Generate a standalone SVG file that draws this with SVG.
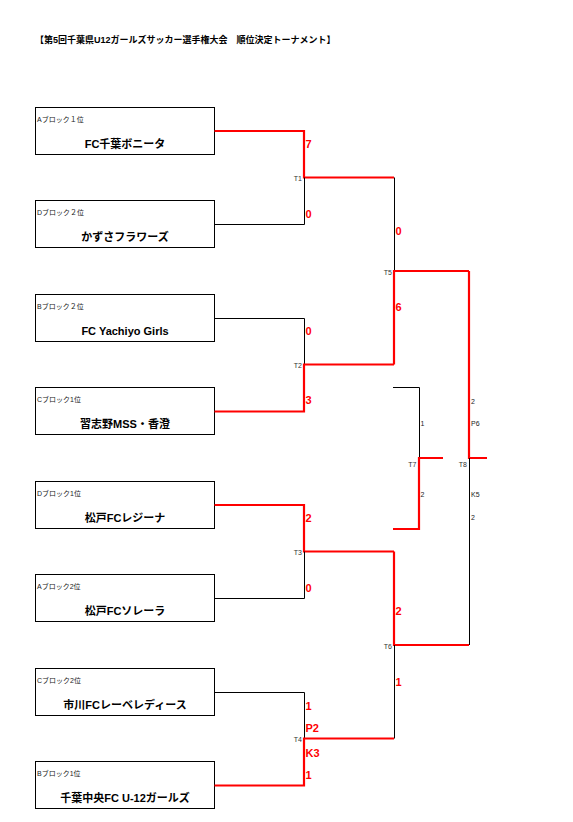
<svg xmlns="http://www.w3.org/2000/svg" width="573" height="822" viewBox="0 0 573 822">
<style>
.box{fill:#fff;stroke:#000;stroke-width:1}
.blk{fill:none;stroke:#000;stroke-width:1}
.red{fill:none;stroke:#f00;stroke-width:2.2}
.sub{font-family:"Liberation Sans","Noto Sans CJK JP",sans-serif;font-size:7px;fill:#222}
.name{font-family:"Liberation Sans","Noto Sans CJK JP",sans-serif;font-size:11px;font-weight:bold;fill:#000;text-anchor:middle}
.sc{font-family:"Liberation Sans","Noto Sans CJK JP",sans-serif;font-size:11px;font-weight:bold;fill:#f00}
.tl{font-family:"Liberation Sans",sans-serif;font-size:7px;fill:#333;text-anchor:end}
.sm{font-family:"Liberation Sans",sans-serif;font-size:7px;fill:#222}
.title{font-family:"Liberation Sans","Noto Sans CJK JP",sans-serif;font-size:9px;font-weight:bold;fill:#000}
</style>
<rect width="573" height="822" fill="#fff"/>
<text class="title" x="35" y="43">【第5回千葉県U12ガールズサッカー選手権大会　順位決定トーナメント】</text>

<g id="team1"><rect class="box" x="35.5" y="107.5" width="179" height="47"/><text class="sub" x="37" y="122">Aブロック１位</text><text class="name" x="125" y="147.5">FC千葉ボニータ</text></g>
<g id="team2"><rect class="box" x="35.5" y="200.5" width="179" height="47"/><text class="sub" x="37" y="215">Dブロック２位</text><text class="name" x="125" y="241">かずさフラワーズ</text></g>
<g id="team3"><rect class="box" x="35.5" y="294.5" width="179" height="47"/><text class="sub" x="37" y="309">Bブロック２位</text><text class="name" x="125" y="334.5">FC Yachiyo Girls</text></g>
<g id="team4"><rect class="box" x="35.5" y="387.5" width="179" height="47"/><text class="sub" x="37" y="402">Cブロック1位</text><text class="name" x="125" y="428">習志野MSS・香澄</text></g>
<g id="team5"><rect class="box" x="35.5" y="481.5" width="179" height="47"/><text class="sub" x="37" y="496">Dブロック1位</text><text class="name" x="125" y="521.5">松戸FCレジーナ</text></g>
<g id="team6"><rect class="box" x="35.5" y="574.5" width="179" height="47"/><text class="sub" x="37" y="589">Aブロック2位</text><text class="name" x="125" y="615">松戸FCソレーラ</text></g>
<g id="team7"><rect class="box" x="35.5" y="668.5" width="179" height="47"/><text class="sub" x="37" y="683">Cブロック2位</text><text class="name" x="125" y="708.5">市川FCレーベレディース</text></g>
<g id="team8"><rect class="box" x="35.5" y="761.5" width="179" height="47"/><text class="sub" x="37" y="776">Bブロック1位</text><text class="name" x="125" y="802">千葉中央FC U-12ガールズ</text></g>

<g id="connectors">
<!-- T1 -->
<path class="red" d="M214.5 131 H304 V177.5 H394"/>
<path class="blk" d="M214.5 224.5 H304.5 V177.5"/>
<!-- T2 -->
<path class="blk" d="M214.5 318.5 H304.5 V364.5"/>
<path class="red" d="M214.5 411.5 H304 V364.5 H394"/>
<!-- T3 -->
<path class="red" d="M214.5 505 H304 V551.5 H394"/>
<path class="blk" d="M214.5 598.5 H304.5 V551.5"/>
<!-- T4 -->
<path class="blk" d="M214.5 692.5 H304.5 V738.5"/>
<path class="red" d="M214.5 785.5 H304 V738.5 H394"/>
<!-- T5 -->
<path class="blk" d="M394.5 177.5 V271"/>
<path class="red" d="M394 364.5 V271 H469"/>
<!-- T6 -->
<path class="red" d="M394 551.5 V645 H469"/>
<path class="blk" d="M394.5 645 V738.5"/>
<!-- T8 -->
<path class="red" d="M469 271 V458 H487"/>
<path class="blk" d="M469.5 458 V645"/>
<!-- T7 -->
<path class="blk" d="M393 387.5 H419.5 V458"/>
<path class="red" d="M393 529 H419 V458 H443"/>
</g>

<g id="labels">
<text class="tl" x="302" y="180.5">T1</text>
<text class="sc" x="305.5" y="147.5">7</text>
<text class="sc" x="305.5" y="218">0</text>
<text class="tl" x="302" y="367.5">T2</text>
<text class="sc" x="305.5" y="334.5">0</text>
<text class="sc" x="305.5" y="404">3</text>
<text class="tl" x="302" y="554.5">T3</text>
<text class="sc" x="305.5" y="521.5">2</text>
<text class="sc" x="305.5" y="591.5">0</text>
<text class="tl" x="302" y="741.5">T4</text>
<text class="sc" x="305.5" y="709.5">1</text>
<text class="sc" x="305.5" y="731.5">P2</text>
<text class="sc" x="305.5" y="756.5">K3</text>
<text class="sc" x="305.5" y="779">1</text>
<text class="tl" x="392" y="274.5">T5</text>
<text class="sc" x="395.5" y="234.5">0</text>
<text class="sc" x="395.5" y="310.5">6</text>
<text class="tl" x="392" y="649">T6</text>
<text class="sc" x="395.5" y="615">2</text>
<text class="sc" x="395.5" y="685.5">1</text>
<text class="tl" x="416.5" y="467">T7</text>
<text class="sm" x="420.5" y="426">1</text>
<text class="sm" x="420.5" y="496.5">2</text>
<text class="tl" x="467" y="467">T8</text>
<text class="sm" x="471" y="403.5">2</text>
<text class="sm" x="471" y="425.5">P6</text>
<text class="sm" x="471" y="496.5">K5</text>
<text class="sm" x="471" y="520">2</text>
</g>
</svg>
